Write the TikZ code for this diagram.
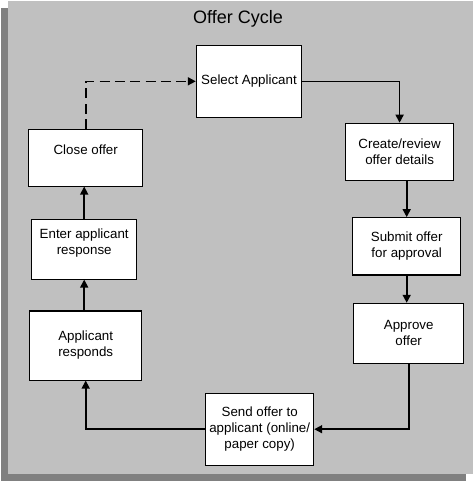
\documentclass[tikz,border=0pt]{standalone}
\usepackage{fontspec}
\setmainfont{Liberation Sans}
\usepackage{xcolor}
\usepackage{tikz}
\usetikzlibrary{arrows.meta,positioning,calc}
\definecolor{panelgray}{HTML}{C0C0C0}
\definecolor{shadowgray}{HTML}{808080}

\begin{document}
\begin{tikzpicture}[x=0.75pt,y=-0.75pt,
    stage/.style={draw,fill=white,line width=0.8pt,align=center,inner sep=0pt,
        font=\fontsize{10}{12}\selectfont},
    boxsize/.style 2 args={minimum width=#1,minimum height=#2},
    flow/.style={-{Triangle[length=6pt,width=6pt]},line width=1.2pt},
    back/.style={flow,dash pattern=on 7.5pt off 4pt}]
    \useasboundingbox (0,0) rectangle (473,482);

    % Panel with shadow
    \fill[shadowgray] (1,8) rectangle (465.5,480.5);
    \fill[panelgray] (7.5,1) rectangle (473,473.5);
    \node[font=\fontsize{13.5}{16}\selectfont] (title) at (238,19) {Offer Cycle};

    % Stages of the cycle
    \node[stage,boxsize={79pt}{54pt}] (select) at (249,81.3) {Select Applicant};
    \node[stage,boxsize={81.2pt}{42.8pt}] (create) at (399.6,151.8) {Create/review\\offer details};
    \node[stage,boxsize={81pt}{43pt}] (submit) at (406.7,246.3) {Submit offer\\for approval};
    \node[stage,boxsize={82.5pt}{44.8pt}] (approve) at (408.7,333.2) {Approve\\offer};
    \node[stage,boxsize={81pt}{53.8pt}] (send) at (259.7,429.2) {Send offer to\\applicant (online/\\paper copy)};
    \node[stage,boxsize={84pt}{51.8pt}] (responds) at (85.7,345.5) {Applicant\\responds};
    \node[stage,boxsize={78.8pt}{44.8pt},text depth=12pt] (enter) at (84.2,249.2) {Enter applicant\\response};
    \node[stage,boxsize={85.5pt}{42.5pt},text depth=12.6pt] (close) at (85.7,157.7) {Close offer};

    % Connectors
    \draw[flow] (select.east) -| (create.north);
    \draw[flow] (create.south -| submit.north) -- (submit.north);
    \draw[flow] (submit.south) -- (submit.south |- approve.north);
    \draw[flow] (approve.south) |- (send.east);
    \draw[flow] (send.west) -| (responds.south);
    \draw[flow] (enter.south |- responds.north) -- (enter.south);
    \draw[flow] (enter.north) -- (enter.north |- close.south);
    \draw[back] (close.north) |- (select.west);
\end{tikzpicture}
\end{document}
